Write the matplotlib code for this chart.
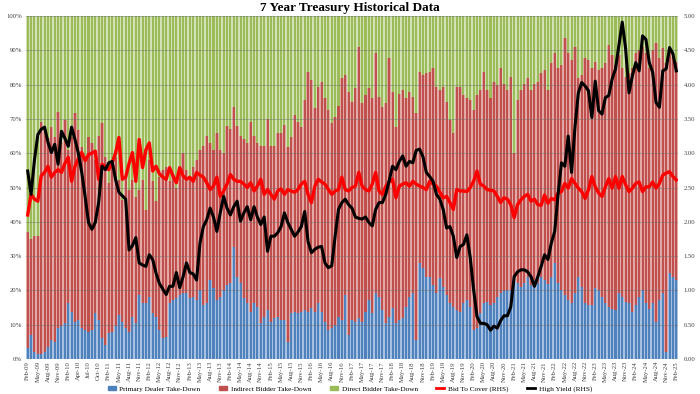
'''
7 Year Treasury auction history: take-down shares (stacked %) with high yield and bid to cover on the right axis
'''
import numpy as np
import matplotlib
matplotlib.use("Agg")
import matplotlib.pyplot as plt
from matplotlib.patches import Patch
from matplotlib.lines import Line2D

tick_labels = [
    "Feb-09", "May-09", "Aug-09", "Nov-09", "Feb-10", "Apr-10", "Jul-10", "Oct-10",
    "Feb-11", "May-11", "Aug-11", "Nov-11", "Feb-12", "May-12", "Aug-12", "Nov-12",
    "Feb-13", "May-13", "Aug-13", "Nov-13", "Feb-14", "May-14", "Aug-14", "Nov-14",
    "Feb-15", "May-15", "Aug-15", "Nov-15", "Feb-16", "May-16", "Aug-16", "Nov-16",
    "Feb-17", "May-17", "Aug-17", "Nov-17", "Feb-18", "May-18", "Aug-18", "Nov-18",
    "Feb-19", "May-19", "Aug-19", "Nov-19", "Feb-20", "May-20", "Aug-20", "Nov-20",
    "Feb-21", "May-21", "Aug-21", "Nov-21", "Feb-22", "May-22", "Aug-22", "Nov-22",
    "Feb-23", "May-23", "Aug-23", "Nov-23", "Feb-24", "May-24", "Aug-24", "Nov-24",
    "Feb-25",
]

# primary dealer take-down, % of auction
dealer = [
    3.1, 7.0, 2.1, 1.6, 1.6, 2.1, 3.6, 5.5, 5.0, 9.0, 9.5, 10.4,
    16.2, 13.8, 10.9, 11.4, 9.0, 8.5, 8.0, 8.5, 13.3, 11.4, 6.0, 4.1,
    7.6, 8.0, 9.5, 12.8, 10.9, 9.0, 8.0, 12.3, 10.4, 18.7, 16.2, 16.2,
    18.2, 13.3, 12.3, 8.5, 6.0, 6.5, 16.2, 17.2, 17.7, 18.7, 19.2, 19.2,
    17.7, 18.2, 17.2, 20.1, 15.7, 16.2, 23.0, 20.6, 17.2, 18.2, 20.1, 21.6,
    22.1, 32.7, 24.0, 22.1, 17.7, 16.2, 13.8, 16.2, 15.2, 10.4, 12.3, 14.3,
    10.9, 11.9, 12.3, 11.4, 11.4, 5.0, 13.3, 13.8, 13.3, 13.8, 14.3, 13.8,
    14.8, 13.8, 16.2, 13.8, 10.9, 8.5, 9.0, 9.9, 12.3, 11.4, 18.7, 7.0,
    11.4, 10.9, 11.9, 10.9, 13.8, 17.2, 13.3, 19.2, 18.2, 14.3, 10.4, 12.3,
    14.8, 10.4, 11.4, 11.9, 15.2, 18.2, 19.2, 5.5, 27.9, 26.4, 24.0, 24.0,
    21.6, 19.2, 23.5, 21.1, 18.7, 16.2, 15.2, 14.3, 13.8, 16.2, 17.2, 15.2,
    8.5, 9.0, 13.3, 16.2, 16.7, 15.7, 16.2, 18.2, 19.2, 19.7, 20.1, 20.1,
    22.6, 22.1, 21.1, 22.1, 24.0, 21.6, 23.0, 22.1, 24.0, 23.0, 22.0, 24.0,
    27.9, 22.1, 20.1, 18.7, 17.2, 16.2, 19.2, 24.0, 21.1, 16.2, 15.7, 15.7,
    20.6, 20.1, 18.2, 16.2, 15.2, 14.7, 14.3, 19.2, 18.2, 16.7, 16.2, 13.8,
    15.7, 18.2, 20.1, 16.2, 14.7, 16.2, 10.9, 17.2, 19.2, 2.0, 25.0, 24.0, 23.0,
]

# top of the indirect block (dealer + indirect), %
dealer_indirect = [
    37.0, 35.0, 36.0, 36.0, 69.0, 67.7, 64.3, 67.7, 64.8, 72.1, 63.4, 69.7,
    60.9, 64.8, 71.6, 66.8, 61.9, 57.5, 64.8, 62.9, 58.0, 65.0, 68.7, 59.0,
    51.2, 56.0, 59.0, 52.2, 46.4, 53.2, 49.3, 52.2, 47.3, 49.3, 52.2, 43.4,
    58.0, 52.0, 46.0, 53.0, 55.0, 56.0, 52.0, 54.0, 50.0, 56.0, 60.0, 55.0,
    53.0, 56.0, 58.0, 61.0, 62.0, 65.0, 63.0, 61.0, 66.0, 61.0, 60.0, 68.0,
    67.0, 73.6, 68.0, 65.0, 64.0, 63.0, 69.0, 65.0, 63.0, 62.0, 62.0, 70.0,
    62.0, 62.0, 66.0, 65.8, 68.2, 61.9, 64.8, 71.1, 69.2, 67.7, 75.5, 83.8,
    81.3, 73.1, 79.4, 80.8, 76.0, 72.6, 68.7, 70.6, 73.9, 81.8, 82.8, 77.9,
    75.0, 78.9, 91.0, 74.5, 77.0, 78.9, 76.0, 89.1, 76.5, 73.6, 74.5, 87.7,
    77.9, 67.7, 77.4, 78.4, 76.0, 77.9, 76.5, 71.6, 83.8, 82.8, 83.3, 83.8,
    84.7, 79.4, 78.4, 79.4, 75.0, 69.7, 65.8, 79.4, 79.4, 77.0, 76.0, 75.5,
    72.6, 77.0, 78.4, 83.8, 78.4, 76.0, 80.8, 79.8, 84.7, 80.3, 78.4, 82.3,
    60.0, 75.5, 78.4, 80.3, 81.8, 78.4, 80.3, 80.8, 83.3, 84.3, 78.4, 86.2,
    89.1, 84.7, 85.7, 93.5, 89.1, 87.2, 91.0, 81.8, 82.8, 87.7, 87.2, 84.7,
    86.7, 84.3, 84.7, 86.2, 91.5, 88.6, 85.7, 88.6, 84.7, 82.3, 83.3, 84.7,
    89.1, 90.1, 91.0, 89.1, 84.7, 90.1, 92.0, 87.7, 90.6, 86.2, 90.1, 88.1, 86.7,
]

high_yield = [
    2.74, 2.40, 2.90, 3.27, 3.35, 3.38, 3.16, 3.01, 3.13, 2.84, 3.32, 3.22,
    3.10, 3.38, 3.20, 3.00, 2.72, 2.37, 1.99, 1.89, 1.99, 2.28, 2.81, 2.76,
    2.86, 2.88, 2.62, 2.43, 2.38, 2.33, 1.59, 1.65, 1.77, 1.40, 1.37, 1.35,
    1.52, 1.45, 1.25, 1.10, 1.02, 0.94, 1.06, 1.06, 1.26, 1.04, 1.20, 1.40,
    1.26, 1.24, 1.15, 1.69, 1.93, 2.03, 2.20, 2.07, 1.86, 2.13, 2.37, 2.20,
    2.10, 2.22, 2.30, 2.01, 2.13, 2.22, 2.03, 2.22, 2.07, 1.96, 2.07, 1.57,
    1.79, 1.79, 1.84, 1.93, 2.13, 1.99, 1.89, 1.79, 1.85, 1.93, 2.15, 1.71,
    1.55, 1.60, 1.63, 1.64, 1.40, 1.33, 1.36, 1.79, 2.18, 2.28, 2.33, 2.25,
    2.20, 2.07, 2.05, 2.04, 2.07, 1.99, 1.94, 2.18, 2.28, 2.28, 2.40, 2.60,
    2.81, 2.76, 2.88, 2.96, 2.81, 2.88, 2.86, 3.04, 3.06, 2.95, 2.72, 2.66,
    2.59, 2.40, 2.33, 2.18, 1.91, 1.93, 1.79, 1.48, 1.64, 1.67, 1.81, 1.48,
    1.01, 0.62, 0.52, 0.52, 0.50, 0.42, 0.48, 0.45, 0.56, 0.63, 0.63, 0.76,
    1.20, 1.27, 1.30, 1.30, 1.27, 1.20, 1.06, 1.20, 1.35, 1.52, 1.45, 1.69,
    1.86, 2.40, 2.86, 2.81, 3.25, 2.72, 3.38, 3.88, 4.03, 3.98, 3.91, 3.52,
    4.05, 3.62, 3.57, 3.81, 3.84, 4.08, 4.23, 4.57, 4.91, 4.52, 3.88, 4.13,
    4.32, 4.20, 4.71, 4.66, 4.32, 4.18, 3.74, 3.67, 4.20, 4.23, 4.54, 4.45, 4.20,
]

bid_to_cover = [
    2.10, 2.40, 2.33, 2.30, 2.67, 2.72, 2.81, 2.65, 2.72, 2.76, 2.72, 2.85,
    2.94, 2.59, 2.81, 2.92, 3.01, 2.89, 2.98, 3.00, 3.03, 2.62, 2.84, 2.80,
    2.76, 2.86, 3.00, 3.23, 2.62, 2.65, 2.85, 3.01, 2.59, 3.20, 2.79, 3.05,
    3.15, 2.74, 2.81, 2.70, 2.65, 2.62, 2.79, 2.67, 2.57, 2.79, 2.67, 2.62,
    2.65, 2.59, 2.72, 2.68, 2.65, 2.57, 2.47, 2.52, 2.65, 2.37, 2.45, 2.55,
    2.69, 2.62, 2.59, 2.59, 2.55, 2.50, 2.57, 2.45, 2.52, 2.62, 2.40, 2.47,
    2.40, 2.33, 2.45, 2.48, 2.40, 2.47, 2.45, 2.43, 2.47, 2.55, 2.59, 2.40,
    2.28, 2.52, 2.62, 2.58, 2.55, 2.47, 2.40, 2.45, 2.47, 2.65, 2.47, 2.45,
    2.50, 2.52, 2.72, 2.52, 2.47, 2.45, 2.55, 2.72, 2.45, 2.40, 2.52, 2.58,
    2.62, 2.35, 2.52, 2.55, 2.57, 2.52, 2.59, 2.55, 2.52, 2.50, 2.47, 2.59,
    2.55, 2.52, 2.43, 2.35, 2.37, 2.28, 2.18, 2.47, 2.45, 2.45, 2.44, 2.50,
    2.59, 2.74, 2.55, 2.52, 2.47, 2.46, 2.45, 2.37, 2.28, 2.35, 2.33, 2.25,
    2.06, 2.25, 2.32, 2.37, 2.40, 2.30, 2.33, 2.25, 2.24, 2.39, 2.27, 2.34,
    2.32, 2.42, 2.44, 2.56, 2.49, 2.63, 2.56, 2.49, 2.44, 2.34, 2.47, 2.66,
    2.51, 2.42, 2.37, 2.51, 2.63, 2.49, 2.66, 2.49, 2.66, 2.54, 2.44, 2.49,
    2.56, 2.58, 2.44, 2.51, 2.51, 2.58, 2.49, 2.56, 2.68, 2.71, 2.73, 2.66, 2.61,
]

BLUE, BLUE_LT = "#4F81BD", "#A9C1E0"
RED, RED_LT = "#C0504D", "#E3A9A7"
GREEN, GREEN_LT = "#9BBB59", "#D3E2B6"
FONT = "Liberation Serif"


def stripe_bar(ax, x, h, bottom, dark, light):
    # excel-ish gradient bars: pale full slot, darker core
    ax.bar(x, h, bottom=bottom, width=1.0, color=light, linewidth=0, zorder=1)
    ax.bar(x, h, bottom=bottom, width=0.6, color=dark, linewidth=0, zorder=1.1)


def main():
    x = np.arange(len(dealer))
    d = np.array(dealer)
    top = np.array(dealer_indirect)
    indirect = top - d
    direct = 100 - top

    fig = plt.figure(figsize=(7, 3.94), dpi=100)
    ax = fig.add_axes([26 / 700, 35 / 394, 652 / 700, 343 / 394])

    stripe_bar(ax, x, d, 0, BLUE, BLUE_LT)
    stripe_bar(ax, x, indirect, d, RED, RED_LT)
    stripe_bar(ax, x, direct, top, GREEN, GREEN_LT)

    ax.set_xlim(-0.5, len(x) - 0.5)
    ax.set_ylim(0, 100)
    ax.set_yticks(range(0, 101, 10))
    ax.set_yticklabels([f"{v}%" for v in range(0, 101, 10)])
    ax.set_axisbelow(False)
    ax.yaxis.grid(True, color="#6f6f6f", lw=0.6, alpha=0.55, zorder=2)
    ax.set_xticks(x[::3])
    ax.set_xticklabels(tick_labels, rotation=90, fontsize=4.8, family=FONT, color="#404040")
    ax.tick_params(axis="x", length=0, pad=1.5)
    ax.tick_params(axis="y", length=0, pad=3, labelsize=4.8, labelcolor="#404040")
    for t in ax.get_yticklabels():
        t.set_family(FONT)
    for s in ax.spines.values():
        s.set_visible(False)

    ax2 = ax.twinx()
    ax2.plot(x, bid_to_cover, color="#FF0000", lw=2.4, zorder=3)
    ax2.plot(x, high_yield, color="black", lw=2.2, zorder=4)
    ax2.set_ylim(0, 5)
    ax2.set_yticks(np.arange(0, 5.01, 0.5))
    ax2.set_yticklabels([f"{v:.2f}" for v in np.arange(0, 5.01, 0.5)])
    ax2.tick_params(axis="y", length=0, pad=4, labelsize=4.8, labelcolor="#404040")
    for t in ax2.get_yticklabels():
        t.set_family(FONT)
    for s in ax2.spines.values():
        s.set_visible(False)

    fig.text(0.5, 1 - 11.5 / 394, "7 Year Treasury Historical Data", ha="center",
             va="baseline", fontsize=9.5, fontweight="bold", family=FONT)

    handles = [
        Patch(color=BLUE), Patch(color=RED), Patch(color=GREEN),
        Line2D([], [], color="#FF0000", lw=2), Line2D([], [], color="black", lw=2),
    ]
    names = ["Primary Dealer Take-Down", "Indirect Bidder Take-Down",
             "Direct Bidder Take-Down", "Bid To Cover (RHS)", "High Yield (RHS)"]
    fig.legend(handles, names, loc="center", bbox_to_anchor=(0.5, 1 - 389 / 394),
               ncol=5, frameon=False, prop={"family": FONT, "size": 5.2},
               handlelength=1.1, handleheight=0.6, columnspacing=2.6,
               handletextpad=0.5, borderpad=0, borderaxespad=0)

    fig.savefig("out.png", dpi=100)


if __name__ == "__main__":
    main()
